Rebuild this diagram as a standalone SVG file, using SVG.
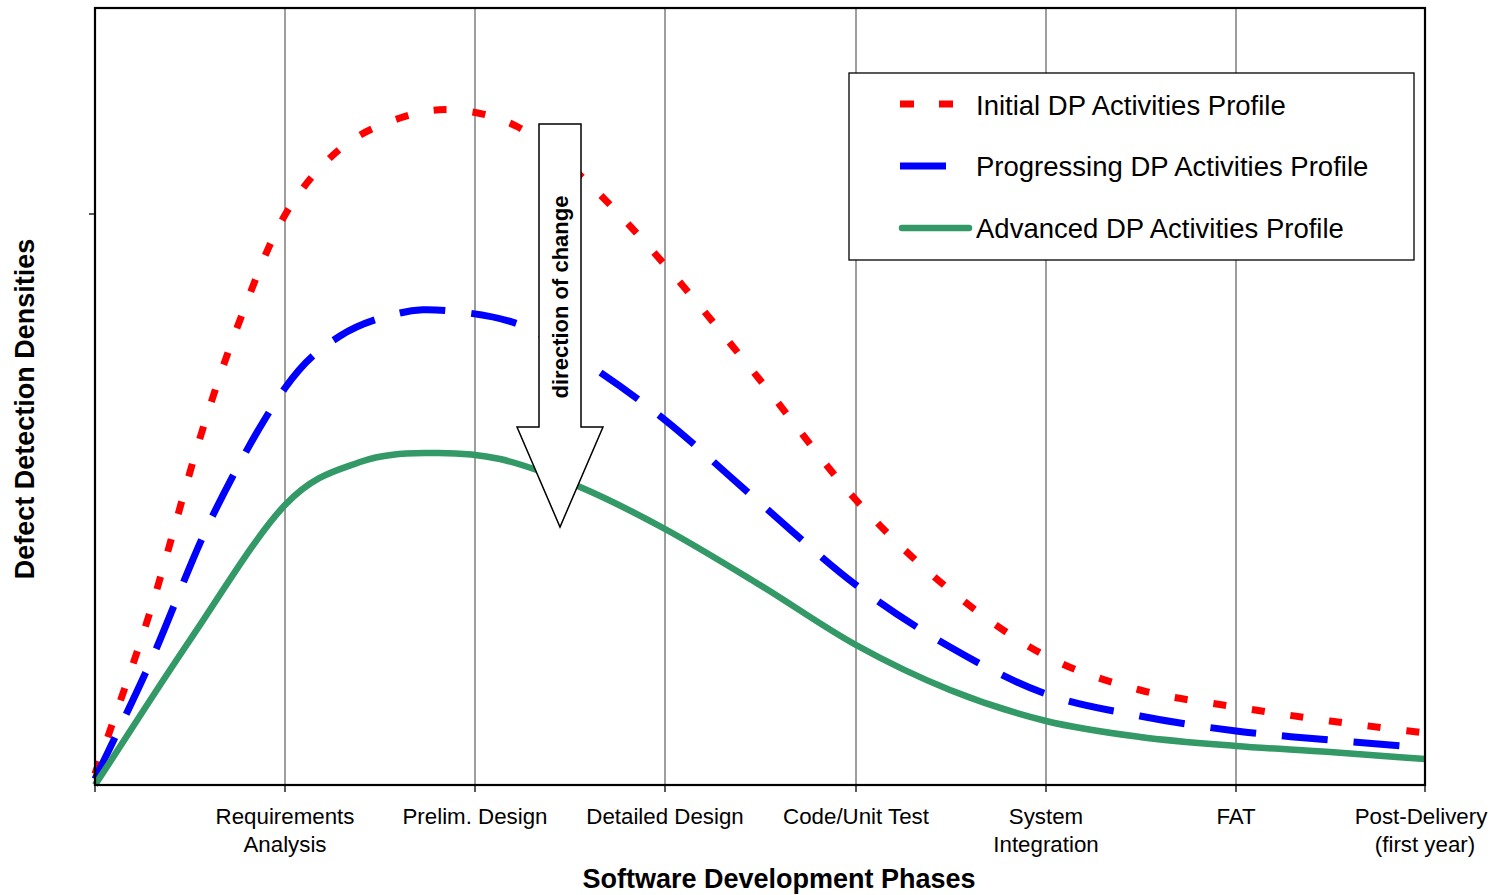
<svg xmlns="http://www.w3.org/2000/svg" width="1494" height="895" viewBox="0 0 1494 895">
<style>
.lbl{font-family:"Liberation Sans",Arial,sans-serif;font-size:22.3px;fill:#000;text-anchor:middle}
.ttl{font-family:"Liberation Sans",Arial,sans-serif;font-size:27px;font-weight:bold;fill:#000;text-anchor:middle}
.leg{font-family:"Liberation Sans",Arial,sans-serif;font-size:27.5px;fill:#000}
.grid{stroke:#6a6a6a;stroke-width:1.3;fill:none}
.tick{stroke:#000;stroke-width:1.3}
.red{fill:none;stroke:#FF0000;stroke-width:7;stroke-dasharray:13 26;stroke-linejoin:round}
.blue{fill:none;stroke:#0000FF;stroke-width:7;stroke-dasharray:46 26;stroke-linejoin:round}
.green{fill:none;stroke:#339966;stroke-width:6.5;stroke-linejoin:round}
</style>
<rect width="1494" height="895" fill="#fff"/>
<g id="grid">
<line class="grid" x1="285" y1="8" x2="285" y2="785"/>
<line class="grid" x1="475" y1="8" x2="475" y2="785"/>
<line class="grid" x1="665" y1="8" x2="665" y2="785"/>
<line class="grid" x1="856" y1="8" x2="856" y2="785"/>
<line class="grid" x1="1046" y1="8" x2="1046" y2="785"/>
<line class="grid" x1="1236" y1="8" x2="1236" y2="785"/>
</g>
<g id="connectors">
<path id="initial" class="red" d="M95,774 C113.3,720 132.5,668 150,612 C167.5,556 185,486.7 200,438 C215,389.3 225.8,357.2 240,320 C254.2,282.8 268.3,243.5 285,215 C301.7,186.5 320.8,165.2 340,149 C359.2,132.8 380.8,124.5 400,118 C419.2,111.5 435.3,108.5 455,110 C474.7,111.5 496.7,115.7 518,127 C539.3,138.3 558.5,155 583,178 C607.5,201 635.5,231.3 665,265 C694.5,298.7 728.2,340.8 760,380 C791.8,419.2 824.3,465 856,500 C887.7,535 918.3,564 950,590 C981.7,616 1014.3,639.3 1046,656 C1077.7,672.7 1108.3,681.5 1140,690 C1171.7,698.5 1204.3,701.8 1236,707 C1267.7,712.2 1298.5,716.7 1330,721 C1361.5,725.3 1393.3,729 1425,733"/>
<path id="progressing" class="blue" d="M95,779 C113.3,740.3 130.3,707 150,663 C169.7,619 190.5,560.8 213,515 C235.5,469.2 263.8,417.8 285,388 C306.2,358.2 320.8,348.5 340,336 C359.2,323.5 381.7,317.2 400,313 C418.3,308.8 430.3,309.2 450,311 C469.7,312.8 496.3,316 518,324 C539.7,332 555.5,343 580,359 C604.5,375 635,396 665,420 C695,444 728.2,475.5 760,503 C791.8,530.5 824.3,561 856,585 C887.7,609 918.3,628.8 950,647 C981.7,665.2 1014.3,682.5 1046,694 C1077.7,705.5 1108.3,709.8 1140,716 C1171.7,722.2 1204.3,727 1236,731 C1267.7,735 1298.5,737.2 1330,740 C1361.5,742.8 1393.3,745.3 1425,748"/>
<path id="advanced" class="green" d="M95,785 C126.7,736.7 158.3,686.7 190,640 C221.7,593.3 256.7,534.7 285,505 C313.3,475.3 335.8,470.7 360,462 C384.2,453.3 406.7,453.5 430,453 C453.3,452.5 475,453.3 500,459 C524.5,464.7 552.5,475.3 580,487 C607.5,498.7 635,512.7 665,529 C695,545.3 728.2,565.7 760,585 C791.8,604.3 824.3,627.5 856,645 C887.7,662.5 918.3,677.3 950,690 C981.7,702.7 1014.3,713.2 1046,721 C1077.7,728.8 1108.3,732.8 1140,737 C1171.7,741.2 1204.3,743.5 1236,746 C1267.7,748.5 1298.5,749.8 1330,752 C1361.5,754.2 1393.3,756.7 1425,759"/>
</g>
<g id="frame">
<rect x="95" y="8" width="1330" height="777" fill="none" stroke="#000" stroke-width="2.2"/>
<line class="tick" x1="89" y1="214" x2="95" y2="214"/>
<line class="tick" x1="95" y1="785" x2="95" y2="792"/>
<line class="tick" x1="285" y1="785" x2="285" y2="792"/>
<line class="tick" x1="475" y1="785" x2="475" y2="792"/>
<line class="tick" x1="665" y1="785" x2="665" y2="792"/>
<line class="tick" x1="856" y1="785" x2="856" y2="792"/>
<line class="tick" x1="1046" y1="785" x2="1046" y2="792"/>
<line class="tick" x1="1236" y1="785" x2="1236" y2="792"/>
<line class="tick" x1="1425" y1="785" x2="1425" y2="792"/>
</g>
<g id="arrow">
<path d="M539,124 L581,124 L581,427 L603,427 L560,527 L517,427 L539,427 Z" fill="#fff" stroke="#000" stroke-width="1.5"/>
<text class="ttl" style="font-size:22px" transform="translate(568,297) rotate(-90)">direction of change</text>
</g>
<g id="legend">
<rect x="849" y="73" width="565" height="187" fill="#fff" stroke="#000" stroke-width="1.3"/>
<line x1="900" y1="104" x2="914" y2="104" stroke="#FF0000" stroke-width="7"/>
<line x1="939" y1="104" x2="953" y2="104" stroke="#FF0000" stroke-width="7"/>
<line x1="900" y1="166" x2="946" y2="166" stroke="#0000FF" stroke-width="7"/>
<line x1="902" y1="228" x2="969" y2="228" stroke="#339966" stroke-width="6.5" stroke-linecap="round"/>
<text class="leg" x="976" y="115">Initial DP Activities Profile</text>
<text class="leg" x="976" y="176">Progressing DP Activities Profile</text>
<text class="leg" x="976" y="238">Advanced DP Activities Profile</text>
</g>
<g id="xlabels">
<text class="lbl" x="285" y="824">Requirements</text>
<text class="lbl" x="285" y="852">Analysis</text>
<text class="lbl" x="475" y="824">Prelim. Design</text>
<text class="lbl" x="665" y="824">Detailed Design</text>
<text class="lbl" x="856" y="824">Code/Unit Test</text>
<text class="lbl" x="1046" y="824">System</text>
<text class="lbl" x="1046" y="852">Integration</text>
<text class="lbl" x="1236" y="824">FAT</text>
<text class="lbl" x="1421" y="824">Post-Delivery</text>
<text class="lbl" x="1425" y="852">(first year)</text>
</g>
<text class="ttl" x="779" y="888">Software Development Phases</text>
<text class="ttl" transform="translate(34,409) rotate(-90)">Defect Detection Densities</text>
</svg>
